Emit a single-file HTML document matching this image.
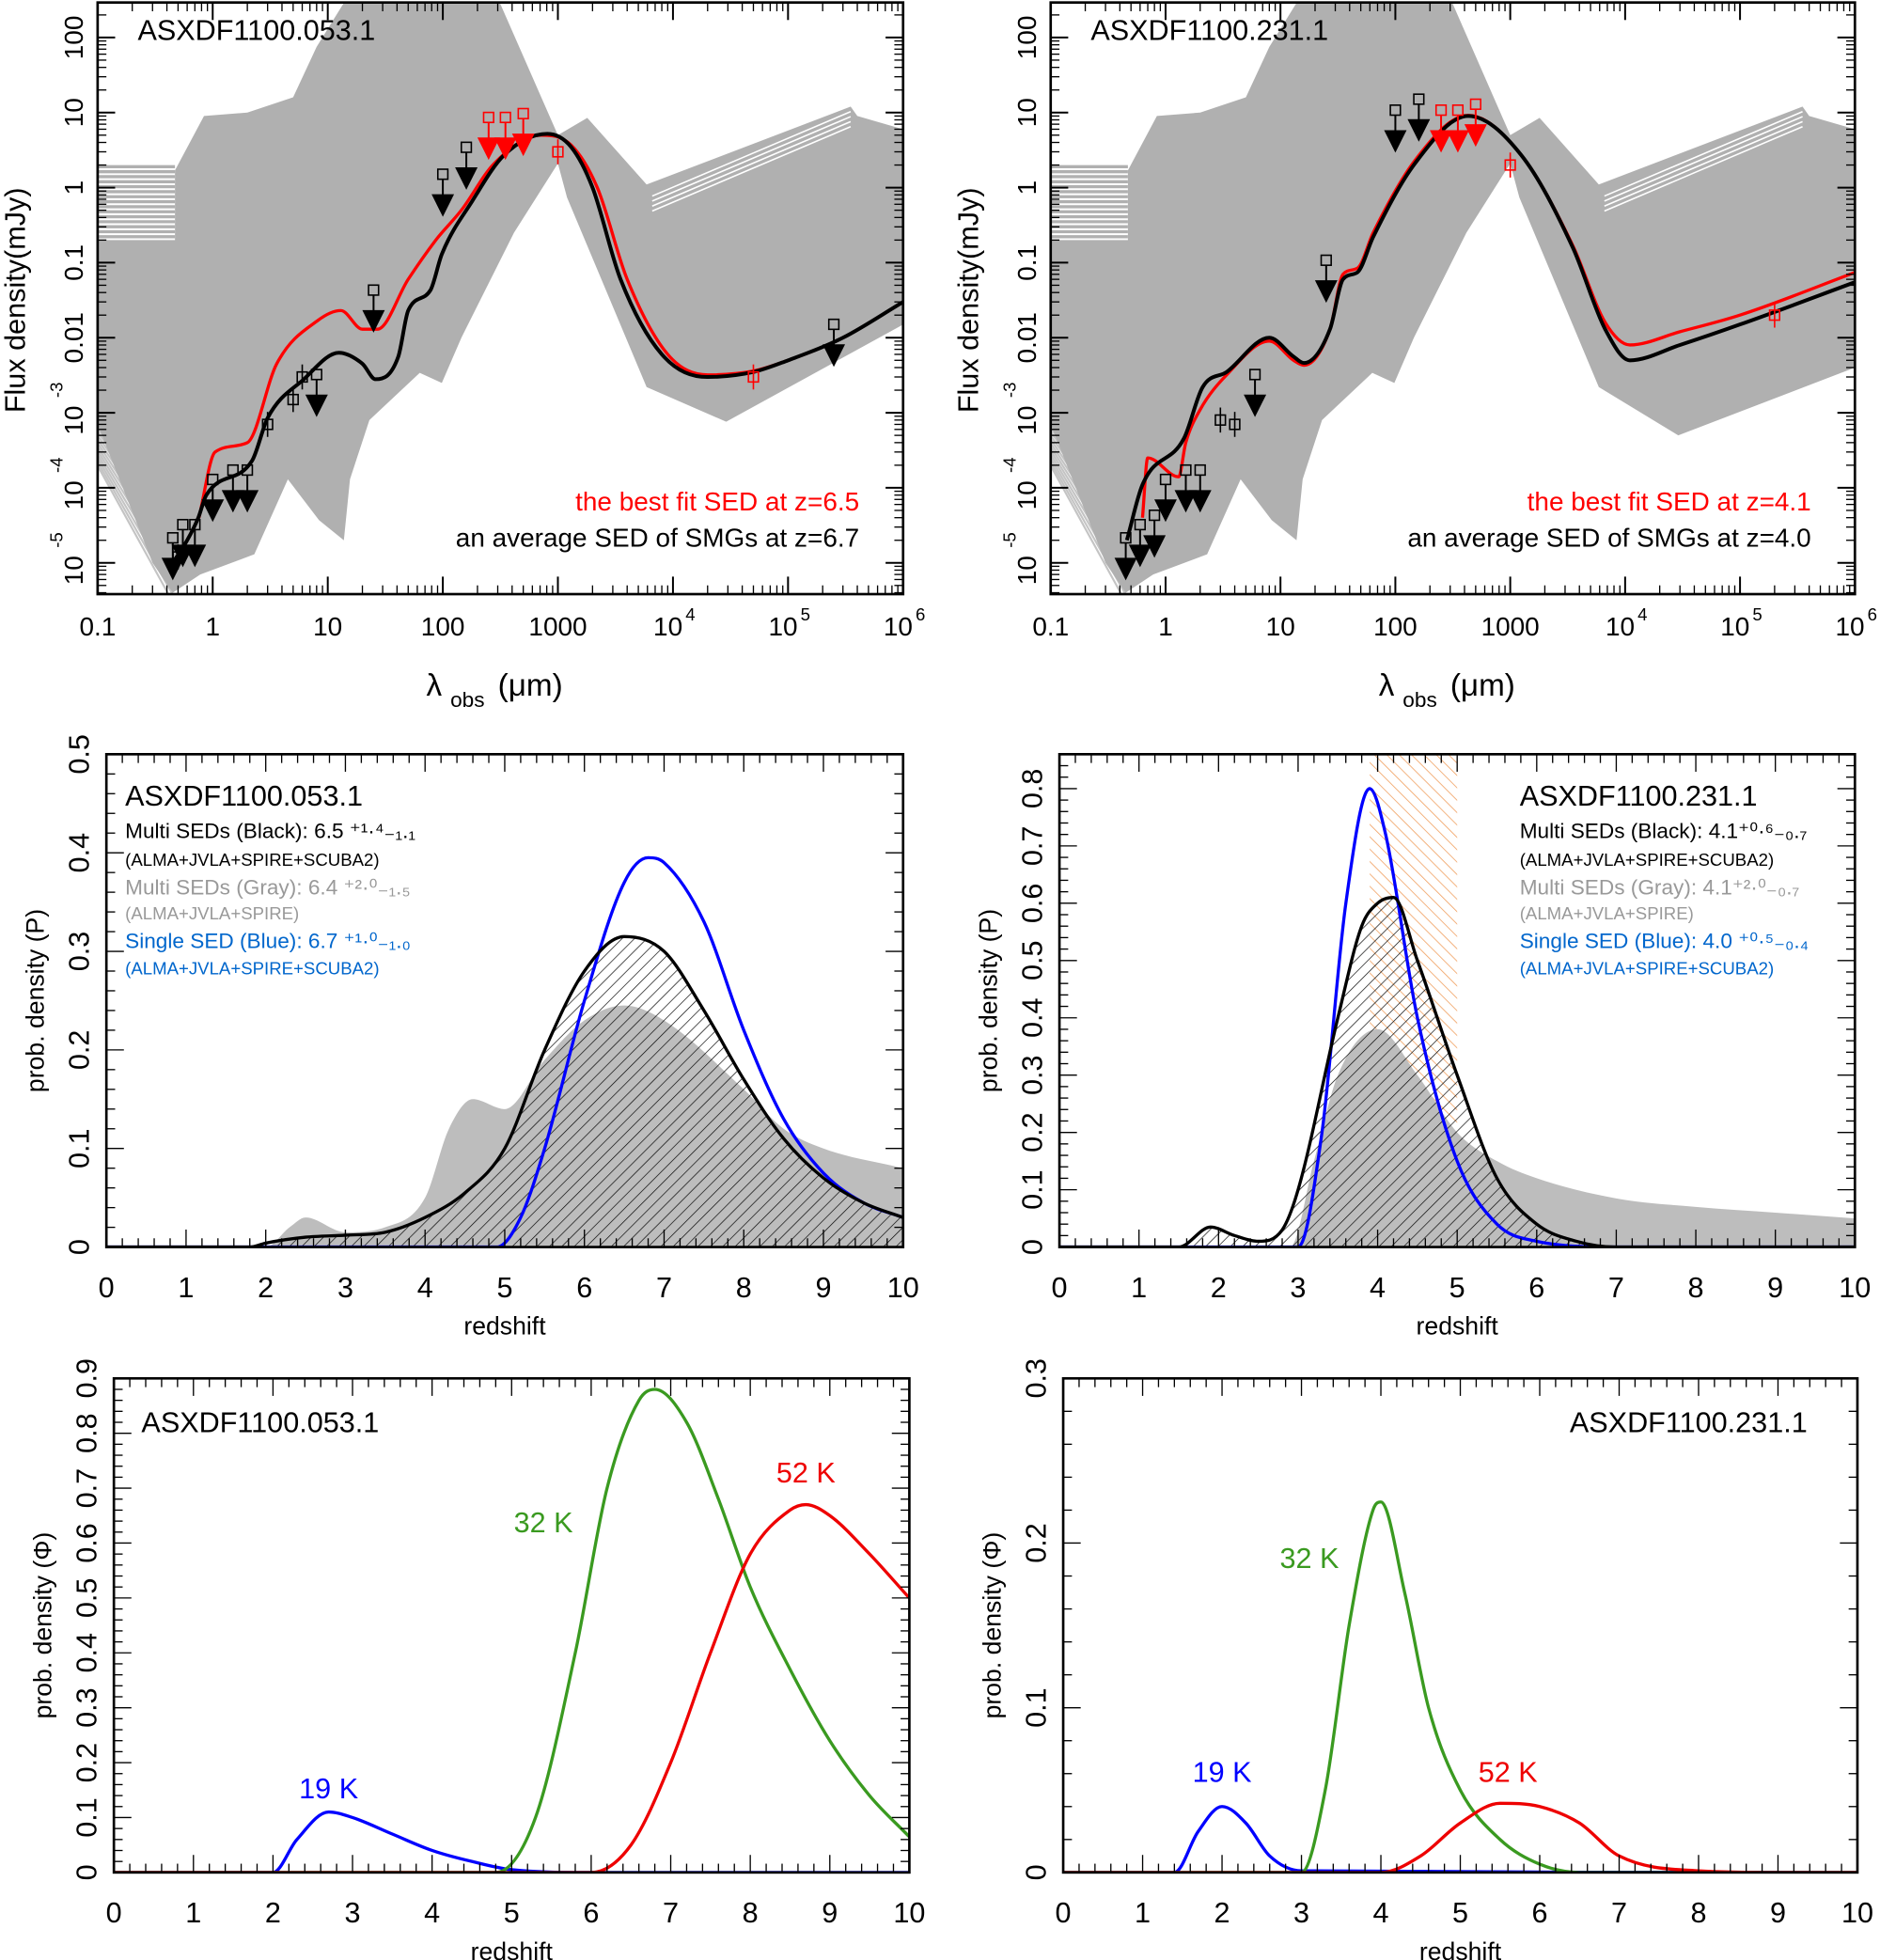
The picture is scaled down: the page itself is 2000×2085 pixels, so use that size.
<!DOCTYPE html>
<html><head><meta charset="utf-8"><style>
html,body{margin:0;padding:0;background:#fff;}
svg{display:block;font-family:"Liberation Sans",sans-serif;}
</style></head><body>
<svg id="fig" xmlns="http://www.w3.org/2000/svg" width="2000" height="2085" viewBox="0 0 1503 1567">
<defs>
<pattern id="hatch" width="7" height="7" patternUnits="userSpaceOnUse" patternTransform="rotate(45)"><line x1="0" y1="0" x2="0" y2="7" stroke="#000" stroke-width="1"/></pattern>
<pattern id="ohatch" width="7" height="7" patternUnits="userSpaceOnUse" patternTransform="rotate(-45)"><line x1="0" y1="0" x2="0" y2="7" stroke="#f0a060" stroke-width="1.2"/></pattern>
</defs>
</svg>
<script>
// ---------- SED data (lambda um, flux mJy) ----------
const sedGrayUpperL=[[0.1,0.2],[0.47,0.2],[0.47,1.7],[0.84,9],[2,10],[5,16],[8,75],[14,300],[310,300],[1000,5],[1800,8.5],[5900,1.1],[350000,12],[400000,9],[1e6,6]];
const sedGrayLowerL=[[0.1,7e-4],[0.3,1e-5],[0.45,4e-6],[0.78,7e-6],[2.3,1.3e-5],[4.5,1.3e-4],[8.4,3.7e-5],[13.8,2e-5],[15.6,1.3e-4],[23,8e-4],[34,1.4e-3],[63,3.4e-3],[98,2.5e-3],[145,0.01],[415,0.25],[1000,2.1],[1200,0.74],[5900,2.2e-3],[29000,7.6e-4],[1e6,0.015]];
const sedLinesL=[[6600,0.9],[350000,12]];
const sedBlackL=[[0.45,1e-5],[0.6,2e-5],[0.75,4e-5],[0.88,8e-5],[2.2,2.3e-4],[3,8.5e-4],[6.2,2.8e-3],[12.5,6.3e-3],[20,4.5e-3],[26,2.8e-3],[41,5.6e-3],[50,0.023],[78,0.043],[98,0.13],[180,0.66],[340,2.7],[810,5.2],[1300,3.5],[2000,1],[3500,0.06],[8000,0.006],[20000,0.003],[50000,0.0035],[1e5,0.005],[3e5,0.01],[1e6,0.03]];
const sedRedL=[[0.76,4e-5],[1.05,3e-4],[2,4e-4],[3.6,4.5e-3],[8.2,0.017],[13,0.023],[20,0.013],[27,0.013],[50,0.06],[87,0.2],[145,0.5],[280,2.1],[720,5],[1300,3.7],[2200,1],[4000,0.06],[9000,0.006],[20000,0.0032],[50000,0.0036],[1e5,0.005],[3e5,0.01],[1e6,0.03]];
const sedLimBlackL=[[0.45,1e-5],[0.55,1.5e-5],[0.7,1.5e-5],[1,6e-5],[1.5,8e-5],[2,8e-5],[8,1.5e-3],[25,0.02],[100,0.7],[160,1.6],[250000,0.007]];
const sedLimRedL=[[250,4],[350,4],[500,4.5]];
const sedDetL=[[0.5,1.2e-5],[3,7e-4],[5,1.5e-3],[6,3e-3],[1000,3],[50000,0.003]];

const sedGrayUpperR=[[0.1,0.2],[0.47,0.2],[0.47,1.7],[0.84,9],[2,10],[5,16],[8,75],[14,300],[310,300],[1000,5],[1800,8.5],[5900,1.1],[350000,12],[400000,9],[1e6,6]];
const sedGrayLowerR=[[0.1,7e-4],[0.3,1e-5],[0.45,4e-6],[0.78,7e-6],[2.3,1.3e-5],[4.5,1.3e-4],[8.4,3.7e-5],[13.8,2e-5],[15.6,1.3e-4],[23,8e-4],[34,1.4e-3],[63,3.4e-3],[98,2.5e-3],[145,0.01],[415,0.25],[1000,2.1],[1200,0.74],[5900,2.2e-3],[29000,5e-4],[1e6,0.004]];
const sedLinesR=[[6600,0.9],[350000,12]];
const sedBlackR=[[0.46,2e-5],[0.63,1.1e-4],[1.45,4.6e-4],[2.1,2.2e-3],[3.4,3.5e-3],[8,0.01],[13,5.6e-3],[16,4.6e-3],[27,0.013],[35,0.06],[47,0.075],[64,0.22],[148,2.1],[430,9],[1250,2.7],[3500,0.16],[6700,0.013],[11000,0.005],[30000,0.008],[1e5,0.015],[1e6,0.055]];
const sedRedR=[[0.63,4e-5],[0.7,2.5e-4],[1.3,1.4e-4],[1.5,4e-4],[2,1.1e-3],[3.4,3.2e-3],[8,0.009],[13,5e-3],[16,4.3e-3],[27,0.013],[35,0.07],[47,0.085],[64,0.25],[148,2.3],[430,9.2],[1250,2.7],[3500,0.17],[6700,0.016],[11000,0.008],[30000,0.012],[1e5,0.02],[1e6,0.074]];
const sedLimBlackR=[[0.45,1e-5],[0.6,1.5e-5],[0.8,2e-5],[1,6e-5],[1.5,8e-5],[2,8e-5],[6,1.5e-3],[25,0.05],[100,5],[160,7]];
const sedLimRedR=[[250,5],[350,5],[500,6]];
const sedDetR=[[3,8e-4],[4,7e-4],[1000,2],[200000,0.02]];

// ---------- redshift PDFs ----------
const zBlackL=[[0,0],[1.8,0],[2,0.004],[2.5,0.01],[3,0.012],[3.5,0.015],[4,0.03],[4.5,0.055],[5,0.1],[5.5,0.2],[6,0.28],[6.5,0.315],[7,0.3],[7.5,0.24],[8,0.17],[8.5,0.11],[9,0.07],[9.5,0.045],[10,0.03]];
const zBlueL=[[0,0],[4.9,0],[5.2,0.03],[5.5,0.1],[6,0.25],[6.5,0.37],[6.8,0.395],[7,0.39],[7.5,0.33],[8,0.22],[8.5,0.13],[9,0.075],[9.5,0.045],[10,0.03]];
const zGrayL=[[0,0],[2,0],[2.3,0.02],[2.5,0.03],[3,0.015],[3.5,0.02],[4,0.05],[4.3,0.12],[4.6,0.15],[5,0.14],[5.5,0.19],[6,0.23],[6.5,0.245],[7,0.23],[8,0.16],[8.5,0.12],[9,0.1],[10,0.08]];
const zBlackR=[[0,0],[1.5,0],[1.9,0.035],[2.2,0.02],[2.5,0.01],[2.8,0.03],[3,0.1],[3.5,0.4],[3.8,0.56],[4,0.6],[4.2,0.61],[4.5,0.5],[5,0.3],[5.5,0.12],[6,0.04],[6.5,0.01],[7,0],[10,0]];
const zBlueR=[[0,0],[3,0],[3.3,0.2],[3.6,0.6],[3.9,0.8],[4.1,0.72],[4.5,0.4],[5,0.15],[5.5,0.04],[6,0.01],[7,0],[10,0]];
const zGrayR=[[0,0],[2.9,0],[3.2,0.15],[3.5,0.3],[4,0.38],[4.5,0.3],[5,0.2],[5.5,0.15],[6,0.12],[7,0.085],[8,0.07],[9,0.06],[10,0.05]];
const zBandR=[3.9,5];

// ---------- temperature PDFs ----------
const t19L=[[0,0],[2,0],[2.3,0.06],[2.7,0.11],[3,0.1],[3.5,0.07],[4,0.04],[4.5,0.02],[5,0.005],[6,0],[10,0]];
const t32L=[[0,0],[4.8,0],[5.3,0.1],[5.8,0.4],[6.2,0.7],[6.6,0.86],[6.8,0.88],[7.2,0.82],[7.6,0.68],[8,0.52],[8.5,0.37],[9,0.24],[9.5,0.14],[10,0.065]];
const t52L=[[0,0],[6,0],[6.5,0.05],[7,0.2],[7.5,0.4],[8,0.58],[8.5,0.66],[8.7,0.67],[9,0.65],[9.5,0.58],[10,0.5]];
const t19R=[[0,0],[1.4,0],[1.7,0.025],[2,0.04],[2.3,0.03],[2.6,0.01],[3,0.001],[10,0]];
const t32R=[[0,0],[3,0],[3.3,0.05],[3.6,0.15],[3.9,0.22],[4,0.225],[4.3,0.17],[4.6,0.1],[5,0.05],[5.5,0.02],[6,0.005],[6.5,0],[10,0]];
const t52R=[[0,0],[4,0],[4.5,0.01],[5,0.03],[5.5,0.042],[6,0.04],[6.5,0.03],[7,0.01],[8,0.001],[9,0],[10,0]];

const svg=document.getElementById('fig');
const NS='http://www.w3.org/2000/svg';
function mk(tag,attrs,parent){const e=document.createElementNS(NS,tag);for(const k in attrs)e.setAttribute(k,attrs[k]);(parent||svg).appendChild(e);return e;}
function txt(x,y,s,opt,parent){const e=mk('text',Object.assign({x:x,y:y,'font-size':20,fill:'#000'},opt||{}),parent);e.textContent=s;return e;}

function smoothPath(pts){
  const n=pts.length;
  if(n<2)return '';
  const dx=[],dy=[],m=[];
  for(let i=0;i<n-1;i++){dx.push(pts[i+1][0]-pts[i][0]);dy.push(pts[i+1][1]-pts[i][1]);m.push(dx[i]>0?dy[i]/dx[i]:0);}
  const t=[m[0]];
  for(let i=1;i<n-1;i++){ if(m[i-1]*m[i]<=0)t.push(0); else t.push((m[i-1]+m[i])/2); }
  t.push(m[n-2]);
  for(let i=0;i<n-1;i++){ if(m[i]===0){t[i]=0;t[i+1]=0;continue;} const a=t[i]/m[i],b=t[i+1]/m[i],s=a*a+b*b; if(s>9){const k=3/Math.sqrt(s);t[i]=k*a*m[i];t[i+1]=k*b*m[i];} }
  let d='M'+pts[0][0].toFixed(1)+','+pts[0][1].toFixed(1);
  for(let i=0;i<n-1;i++){
    const h=dx[i]/3;
    d+='C'+(pts[i][0]+h).toFixed(1)+','+(pts[i][1]+t[i]*h).toFixed(1)+' '+(pts[i+1][0]-h).toFixed(1)+','+(pts[i+1][1]-t[i+1]*h).toFixed(1)+' '+pts[i+1][0].toFixed(1)+','+pts[i+1][1].toFixed(1);
  }
  return d;
}

function frame(g,x0,y0,x1,y1){const r=mk('rect',{x:x0,y:y0,width:x1-x0,height:y1-y0,fill:'none',stroke:'#000','stroke-width':2},g);}

function sedPanel(name,x0,x1,gu,gl,lines,black,red,limB,limR,det,label,zr,zb){
  const y0=2,y1=475;
  const g=mk('g',{});
  
  
  const X=l=>x0+(Math.log10(l)+1)*(x1-x0)/7;
  const Y=f=>30+(2-Math.log10(f))*60;
  const clip=mk('clipPath',{id:'c'+name},g);mk('rect',{x:x0,y:y0,width:x1-x0,height:y1-y0},clip);
  const cg=mk('g',{'clip-path':'url(#c'+name+')'},g);
  for(let k=0;k<15;k++){
    mk('line',{x1:x0,y1:Y(1.9)+k*4,x2:X(0.47),y2:Y(1.9)+k*4,stroke:'#b0b0b0','stroke-width':2.5},cg);
  }
  for(let k=0;k<12;k++){
    mk('line',{x1:x0,y1:Y(7e-4)+k*3,x2:X(0.45),y2:Y(3e-6)-(11-k)*6,stroke:'#c4c4c4','stroke-width':1.6},cg);
  }
  const poly=gu.map(p=>[X(p[0]),Y(p[1])]).concat(gl.slice().reverse().map(p=>[X(p[0]),Y(p[1])]));
  const gp=mk('polygon',{points:poly.map(p=>p.join(',')).join(' '),fill:'#b0b0b0'},cg);
  
  
  for(let k=1;k<5;k++){
    mk('line',{x1:X(lines[0][0]),y1:Y(lines[0][1])+k*4,x2:X(lines[1][0]),y2:Y(lines[1][1])+k*4,stroke:'#fff','stroke-width':1.2},cg);
  }
  const rp=mk('path',{d:smoothPath(red.map(p=>[X(p[0]),Y(p[1])])),fill:'none',stroke:'#f00','stroke-width':2.5},cg);
  
  
  const bp=mk('path',{d:smoothPath(black.map(p=>[X(p[0]),Y(p[1])])),fill:'none',stroke:'#000','stroke-width':3},cg);
  
  
  function arrow(p,col){const x=X(p[0]),y=Y(p[1]);
    mk('rect',{x:x-4,y:y-24,width:8,height:8,fill:'none',stroke:col,'stroke-width':1.2},cg);
    mk('line',{x1:x,y1:y-16,x2:x,y2:y,stroke:col,'stroke-width':1.5},cg);
    const a=mk('polygon',{points:`${x-9},${y-4} ${x+9},${y-4} ${x},${y+14}`,fill:col},cg);
    }
  limB.forEach(p=>arrow(p,'#000'));limR.forEach(p=>arrow(p,'#f00'));
  det.forEach((p,i)=>{const x=X(p[0]),y=Y(p[1]);const col=p[0]>=1000?'#f00':'#000';
    mk('rect',{x:x-4,y:y-4,width:8,height:8,fill:'none',stroke:col,'stroke-width':1.2},cg);
    mk('line',{x1:x,y1:y-10,x2:x,y2:y+10,stroke:col,'stroke-width':1.2},cg);});
  frame(g,x0,y0,x1,y1);
  for(let d=-1;d<=6;d++){const x=X(Math.pow(10,d));
    mk('line',{x1:x,y1:y1,x2:x,y2:y1-14,stroke:'#000','stroke-width':1.5},g);mk('line',{x1:x,y1:y0,x2:x,y2:y0+14,stroke:'#000','stroke-width':1.5},g);
    if(d<6)for(let m=2;m<10;m++){const xm=X(m*Math.pow(10,d));mk('line',{x1:xm,y1:y1,x2:xm,y2:y1-7,stroke:'#000'},g);mk('line',{x1:xm,y1:y0,x2:xm,y2:y0+7,stroke:'#000'},g);}
    const labs={'-1':'0.1','0':'1','1':'10','2':'100','3':'1000'};
    if(d<=3)txt(x,508,labs[d],{'text-anchor':'middle','font-size':21},g);
    else{txt(x-4,508,'10',{'text-anchor':'middle','font-size':21},g);txt(x+10,496,String(d),{'font-size':14},g);}
  }
  for(let d=-6;d<=3;d++){const y=Y(Math.pow(10,d));
    if(y>=y0&&y<=y1){mk('line',{x1:x0,y1:y,x2:x0+14,y2:y,stroke:'#000','stroke-width':1.5},g);mk('line',{x1:x1,y1:y,x2:x1-14,y2:y,stroke:'#000','stroke-width':1.5},g);}
    for(let m=2;m<10;m++){const ym=Y(m*Math.pow(10,d));if(ym>y0&&ym<y1){mk('line',{x1:x0,y1:ym,x2:x0+7,y2:ym,stroke:'#000'},g);mk('line',{x1:x1,y1:ym,x2:x1-7,y2:ym,stroke:'#000'},g);}}
  }
  const ylabs=[[2,'100'],[1,'10'],[0,'1'],[-1,'0.1'],[-2,'0.01']];
  ylabs.forEach(([d,s])=>{const y=Y(Math.pow(10,d));txt(0,0,s,{'text-anchor':'middle','font-size':21,transform:`translate(${x0-12},${y}) rotate(-90)`},g);});
  [-3,-4,-5].forEach(d=>{const y=Y(Math.pow(10,d));txt(0,0,'10',{'text-anchor':'middle','font-size':21,transform:`translate(${x0-12},${y+6}) rotate(-90)`},g);txt(0,0,String(d),{'font-size':14,transform:`translate(${x0-28},${y-12}) rotate(-90)`},g);});
  const yt=txt(0,0,'Flux density(mJy)',{'text-anchor':'middle','font-size':23,transform:`translate(${x0-58},240) rotate(-90)`},g);
  
  const cx=(x0+x1)/2;
  const xt=txt(cx-53,556,'λ',{'text-anchor':'middle','font-size':25},g);
  
  txt(cx-40,565,'obs',{'font-size':17},g);txt(cx-2,556,'(μm)',{'font-size':25},g);
  const tl=txt(x0+32,32,label,{'font-size':23},g);
  const l1=txt(x1-35,408,'the best fit SED at z='+zr,{'font-size':21,fill:'#f00','text-anchor':'end'},g);
  const l2=txt(x1-35,437,'an average SED of SMGs at z='+zb,{'font-size':21,'text-anchor':'end'},g);
}

function linPanel(name,x0,x1,y0,y1,ymax,ystep,ylabels,xlab,ylab,draw){
  const g=mk('g',{});
  
  
  const X=z=>x0+z*(x1-x0)/10;
  const Y=v=>y1-v*(y1-y0)/ymax;
  const clip=mk('clipPath',{id:'c'+name},g);mk('rect',{x:x0,y:y0,width:x1-x0,height:y1-y0},clip);
  const cg=mk('g',{'clip-path':'url(#c'+name+')'},g);
  draw(cg,X,Y);
  frame(g,x0,y0,x1,y1);
  for(let i=0;i<=50;i++){const x=X(i*0.2);const L=i%5==0?14:7;
    mk('line',{x1:x,y1:y1,x2:x,y2:y1-L,stroke:'#000'},g);mk('line',{x1:x,y1:y0,x2:x,y2:y0+L,stroke:'#000'},g);}
  for(let i=0;i<=10;i++)txt(X(i),y1+40,String(i),{'text-anchor':'middle','font-size':23},g);
  const nm=Math.floor(ymax/(ystep/5)+1e-6);
  for(let i=0;i<=nm;i++){const y=Y(i*ystep/5);const L=i%5==0?14:7;
    mk('line',{x1:x0,y1:y,x2:x0+L,y2:y,stroke:'#000'},g);mk('line',{x1:x1,y1:y,x2:x1-L,y2:y,stroke:'#000'},g);}
  ylabels.forEach(v=>{const y=Y(v);txt(0,0,v===0?'0':String(v),{'text-anchor':'middle','font-size':23,transform:`translate(${x0-14},${y}) rotate(-90)`},g);});
  const xt=txt((x0+x1)/2,y1+70,xlab,{'text-anchor':'middle','font-size':20},g);
  const yt=txt(0,0,ylab,{'text-anchor':'middle','font-size':20,transform:`translate(${x0-50},${(y0+y1)/2}) rotate(-90)`},g);
  return g;
}
function curve(g,X,Y,data,attrs,nameStr){const p=mk('path',Object.assign({d:smoothPath(data.map(p=>[X(p[0]),Y(p[1])]))},attrs),g);return p;}
function area(g,X,Y,data,fill,nameStr){const pts=data.map(p=>[X(p[0]),Y(p[1])]);const d=smoothPath(pts)+`L${pts[pts.length-1][0]},${Y(0)}L${pts[0][0]},${Y(0)}Z`;const p=mk('path',{d:d,fill:fill},g);}

sedPanel('sed-panel-053',78,722,sedGrayUpperL,sedGrayLowerL,sedLinesL,sedBlackL,sedRedL,sedLimBlackL,sedLimRedL,sedDetL,'ASXDF1100.053.1','6.5','6.7');
sedPanel('sed-panel-231',840,1483,sedGrayUpperR,sedGrayLowerR,sedLinesR,sedBlackR,sedRedR,sedLimBlackR,sedLimRedR,sedDetR,'ASXDF1100.231.1','4.1','4.0');

const gz1=linPanel('redshift-pdf-053',85,722,603,997,0.5,0.1,[0,0.1,0.2,0.3,0.4,0.5],'redshift','prob. density (P)',(g,X,Y)=>{
  area(g,X,Y,zGrayL,'#bdbdbd','gray-sed-pdf');
  area(g,X,Y,zBlackL,'url(#hatch)','multi-sed-pdf-hatch');
  curve(g,X,Y,zBlueL,{fill:'none',stroke:'#00f','stroke-width':2.5},'single-sed-pdf');
  curve(g,X,Y,zBlackL,{fill:'none',stroke:'#000','stroke-width':2.5},'multi-sed-pdf');
});
const gz2=linPanel('redshift-pdf-231',847,1483,603,997,0.86,0.1,[0,0.1,0.2,0.3,0.4,0.5,0.6,0.7,0.8],'redshift','prob. density (P)',(g,X,Y)=>{
  const b=mk('rect',{x:X(zBandR[0]),y:0,width:X(zBandR[1])-X(zBandR[0]),height:1000,fill:'url(#ohatch)'},g);
  
  area(g,X,Y,zGrayR,'#bdbdbd','gray-sed-pdf');
  area(g,X,Y,zBlackR,'url(#hatch)','multi-sed-pdf-hatch');
  curve(g,X,Y,zBlueR,{fill:'none',stroke:'#00f','stroke-width':2.5},'single-sed-pdf');
  curve(g,X,Y,zBlackR,{fill:'none',stroke:'#000','stroke-width':2.5},'multi-sed-pdf');
});
function legendBlock(g,x,pre,v1){
  txt(x,644,'ASXDF1100.'+pre,{'font-size':23},g);
  txt(x,670,'Multi SEDs (Black): '+v1[0],{'font-size':17},g);
  txt(x,692,'(ALMA+JVLA+SPIRE+SCUBA2)',{'font-size':14},g);
  txt(x,715,'Multi SEDs  (Gray): '+v1[1],{'font-size':17,fill:'#999'},g);
  txt(x,735,'(ALMA+JVLA+SPIRE)',{'font-size':14,fill:'#999'},g);
  txt(x,758,'Single SED (Blue): '+v1[2],{'font-size':17,fill:'#06c'},g);
  txt(x,779,'(ALMA+JVLA+SPIRE+SCUBA2)',{'font-size':14,fill:'#06c'},g);
}
legendBlock(gz1,100,'053.1',['6.5 ⁺¹·⁴₋₁.₁','6.4 ⁺²·⁰₋₁.₅','6.7 ⁺¹·⁰₋₁.₀']);
legendBlock(gz2,1215,'231.1',['4.1⁺⁰·⁶₋₀.₇','4.1⁺²·⁰₋₀.₇','4.0 ⁺⁰·⁵₋₀.₄']);

const gt1=linPanel('temperature-pdf-053',91,727,1102,1497,0.9,0.1,[0,0.1,0.2,0.3,0.4,0.5,0.6,0.7,0.8,0.9],'redshift','prob. density (Φ)',(g,X,Y)=>{
  curve(g,X,Y,t19L,{fill:'none',stroke:'#00f','stroke-width':2.5},'pdf-19k');
  curve(g,X,Y,t32L,{fill:'none',stroke:'#3a9a20','stroke-width':2.5},'pdf-32k');
  curve(g,X,Y,t52L,{fill:'none',stroke:'#e00','stroke-width':2.5},'pdf-52k');
  txt(X(2.7),Y(0.135),'19 K',{'text-anchor':'middle','font-size':23,fill:'#00f'},g);
  txt(X(5.4),Y(0.62),'32 K',{'text-anchor':'middle','font-size':23,fill:'#3a9a20'},g);
  txt(X(8.7),Y(0.71),'52 K',{'text-anchor':'middle','font-size':23,fill:'#e00'},g);
});
txt(113,1145,'ASXDF1100.053.1',{'font-size':23},gt1);
const gt2=linPanel('temperature-pdf-231',850,1485,1102,1497,0.3,0.1,[0,0.1,0.2,0.3],'redshift','prob. density (Φ)',(g,X,Y)=>{
  curve(g,X,Y,t19R,{fill:'none',stroke:'#00f','stroke-width':2.5},'pdf-19k');
  curve(g,X,Y,t32R,{fill:'none',stroke:'#3a9a20','stroke-width':2.5},'pdf-32k');
  curve(g,X,Y,t52R,{fill:'none',stroke:'#e00','stroke-width':2.5},'pdf-52k');
  txt(X(2),Y(0.055),'19 K',{'text-anchor':'middle','font-size':23,fill:'#00f'},g);
  txt(X(3.1),Y(0.185),'32 K',{'text-anchor':'middle','font-size':23,fill:'#3a9a20'},g);
  txt(X(5.6),Y(0.055),'52 K',{'text-anchor':'middle','font-size':23,fill:'#e00'},g);
});
txt(1445,1145,'ASXDF1100.231.1',{'font-size':23,'text-anchor':'end'},gt2);
</script>
</body></html>
